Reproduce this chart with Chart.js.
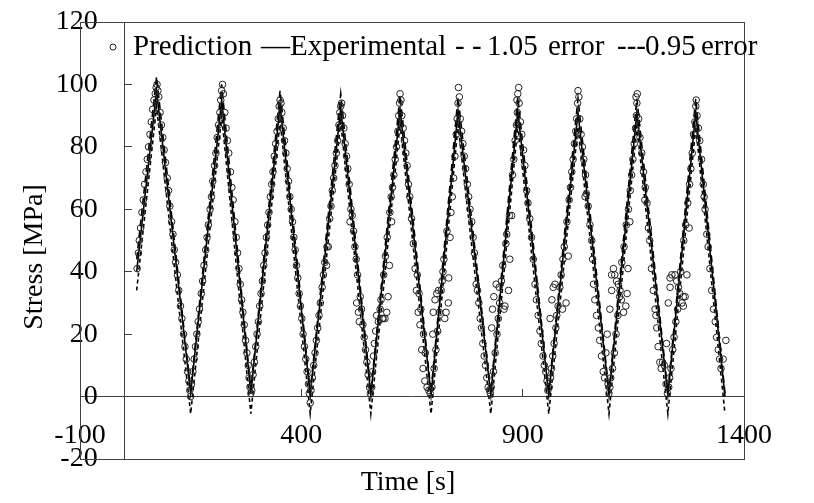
<!DOCTYPE html>
<html>
<head>
<meta charset="utf-8">
<title>Stress vs Time</title>
<script src="https://cdn.jsdelivr.net/npm/chart.js@4.4.0/dist/chart.umd.min.js"></script>
<style>
  html, body { margin: 0; padding: 0; background: #fff; }
  #chart { display: block; }
</style>
</head>
<body>
<canvas id="chart" width="814" height="503"></canvas>
<script>
// 軸の設定値
const xTicks = [-100, 400, 900, 1400];
const yTicks = [-20, 0, 20, 40, 60, 80, 100, 120];

// 実験値（三角波の頂点）
const expTime = [28, 73, 150, 220, 286, 352, 420, 489, 557, 623, 693, 754, 828, 889, 959, 1025, 1095, 1158, 1228, 1291, 1357];
const expStress = [40, 98, 1, 95, 1, 93.5, 0.5, 92.5, 0.5, 92, 0.5, 91.5, 0.5, 91.5, 0.5, 91, 0.5, 91, 0.5, 91, 0];
// 誤差線
const upperStress = [44, 102.5, 2, 100, 2, 98, 1.5, 97, 1.5, 96.5, 1.5, 96, 1.5, 96, 1.5, 95.5, 1.5, 95.5, 1.5, 95.5, 1];
const lowerStress = [34, 93, -5.5, 90, -5.5, 88.5, -5.5, 88, -5.5, 87.5, -5.5, 87, -5.5, 87, -5.5, 86.5, -5.5, 86.5, -5.5, 86.5, -5.5];

// 予測値 [時間, 応力]
const predictionPoints = [
  [29,41],[32,46],[34,50],[37,54],[40,59],[43,63],[46,68],[49,72],[52,76],[55,80],[58,84],[61,88],[64,92],[67,95],[70,97],[72,99],[74,100],[76,98],
  [78,96],[81,91],[84,87],[87,83],[90,79],[93,75],[97,70],[100,66],[103,61],[107,56],[110,52],[113,47],[116,43],[120,39],[123,34],[127,29],[130,25],[134,20],[137,16],[140,12],[143,8],[146,5],[148,2],[150,0],
  [152,4],[155,8],[158,12],[161,16],[164,20],[167,24],[170,28],[174,33],[177,37],[180,42],[184,47],[187,51],[190,55],[194,60],[197,64],[200,69],[204,74],[207,78],[210,83],[213,87],[216,91],[218,95],[220,98],[222,100],
  [224,97],[227,91],[230,86],[233,82],[236,78],[240,72],[243,67],[246,63],[250,56],[253,51],[256,46],[259,41],[262,36],[265,31],[268,27],[271,23],[274,18],[277,14],[280,10],[282,6],[284,3],[286,1],
  [288,2],[291,7],[294,11],[297,16],[300,20],[303,24],[306,29],[309,33],[312,37],[315,42],[318,46],[321,51],[324,55],[327,59],[330,64],[333,68],[336,72],[339,77],[342,81],[345,85],[348,89],[350,93],[352,95],[354,94],
  [356,91],[359,86],[362,82],[365,78],[368,73],[371,69],[374,64],[377,60],[380,56],[383,51],[386,47],[389,42],[392,38],[395,33],[398,29],[401,25],[404,20],[407,16],[410,12],[413,8],[416,4],[418,1],[420,-2],
  [422,2],[425,6],[428,10],[431,14],[434,18],[437,22],[440,26],[443,30],[447,35],[450,39],[453,43],[457,42],[458,48],[461,48],[464,57],[467,61],[470,66],[473,70],[476,74],[479,78],[482,82],[485,87],[487,91],[489,93],[491,94],
  [493,90],[496,86],[499,81],[502,77],[505,73],[508,68],[510,56],[512,60],[515,58],[518,53],[521,48],[524,44],[525,30],[527,39],[529,27],[531,24],[533,32],[536,28],[539,23],[542,19],[545,15],[548,11],[551,7],[554,3],[556,1],
  [559,3],[561,8],[563,13],[565,17],[568,21],[570,26],[574,24],[578,28],[580,31],[583,25],[585,25],[586,39],[589,25],[590,45],[593,27],[594,51],[596,32],[599,42],[600,59],[604,56],[603,64],[606,67],[609,71],[612,76],[615,80],[618,85],[620,90],[622,94],[623,97],[625,95],
  [627,90],[630,86],[633,82],[636,78],[639,74],[642,68],[645,64],[649,57],[653,49],[657,41],[660,34],[662,39],[664,27],[666,33],[668,23],[670,28],[672,15],[675,9],[676,20],[679,5],[680,14],[684,3],[688,2],[691,1],
  [695,3],[697,20],[698,27],[700,9],[702,31],[704,15],[706,33],[708,21],[710,34],[712,27],[716,34],[718,37],[720,40],[722,44],[724,25],[727,27],[729,53],[732,30],[733,38],[736,51],[738,59],[741,64],[744,70],[747,77],[750,84],[752,89],[754,94],[755,99],[757,96],
  [759,89],[762,85],[765,81],[768,77],[771,73],[775,68],[778,64],[781,60],[785,56],[788,51],[791,46],[795,36],[798,34],[801,30],[804,25],[807,22],[810,17],[813,13],[816,10],[819,6],[822,3],[825,2],[827,1],
  [829,3],[830,22],[832,28],[834,8],[835,32],[838,14],[840,36],[842,20],[845,25],[847,35],[848,30],[852,37],[855,42],[858,28],[860,29],[862,49],[864,52],[868,34],[870,58],[871,44],[875,58],[877,71],[880,76],[883,82],[886,87],[888,91],[889,97],[891,99],[887,95],[892,94],
  [895,88],[898,84],[902,79],[905,74],[909,66],[912,62],[916,57],[920,51],[924,44],[928,36],[931,31],[935,26],[939,21],[942,17],[946,13],[949,10],[952,8],[955,5],[957,2],
  [960,3],[962,25],[963,6],[965,9],[966,31],[968,13],[969,35],[971,17],[973,36],[975,22],[977,26],[980,29],[984,35],[987,39],[990,28],[991,44],[994,48],[998,30],[1000,56],[1003,45],[1005,63],[1008,67],[1011,72],[1014,76],[1017,81],[1020,85],[1022,89],[1024,94],[1025,98],[1027,96],
  [1029,89],[1032,84],[1035,80],[1038,76],[1041,64],[1042,71],[1044,65],[1048,61],[1052,55],[1056,50],[1058,44],[1060,36],[1063,31],[1067,26],[1071,22],[1074,18],[1078,13],[1082,8],[1085,6],[1088,14],[1091,20],[1093,4],[1095,1],
  [1097,28],[1097,3],[1099,6],[1101,34],[1101,39],[1103,9],[1105,41],[1107,14],[1108,39],[1111,20],[1112,37],[1115,26],[1116,36],[1119,32],[1120,34],[1123,31],[1124,43],[1128,27],[1129,48],[1133,29],[1134,55],[1136,33],[1138,41],[1139,60],[1142,56],[1143,66],[1146,71],[1149,76],[1152,81],[1155,86],[1157,90],[1158,94],[1159,97],[1156,96],
  [1162,89],[1165,83],[1169,78],[1173,72],[1176,63],[1177,67],[1181,62],[1184,54],[1187,50],[1191,41],[1195,34],[1199,28],[1201,26],[1203,22],[1206,16],[1210,11],[1213,9],[1216,11],[1220,10],[1224,4],[1225,17],[1227,1],
  [1229,30],[1230,3],[1232,6],[1233,35],[1233,38],[1235,9],[1237,39],[1239,15],[1242,19],[1244,39],[1246,24],[1248,37],[1250,28],[1252,35],[1255,33],[1257,40],[1260,30],[1263,32],[1263,29],[1264,50],[1267,32],[1268,55],[1271,39],[1273,62],[1276,54],[1277,68],[1280,73],[1283,78],[1286,84],[1289,88],[1291,93],[1292,95],
  [1294,90],[1297,86],[1300,82],[1304,76],[1308,68],[1310,64],[1312,60],[1316,52],[1319,48],[1323,41],[1327,34],[1331,28],[1335,24],[1338,19],[1342,15],[1345,12],[1348,9],[1353,12],[1359,18]
];

// 凡例の文字列と位置
const legendParts = ['Prediction', '\u2014Experimental', '- -', '1.05', 'error', '---', '0.95', 'error'];
const legendX = [133, 261, 455, 487, 548, 617, 645, 701];
const xTitle = 'Time [s]';
const yTitle = 'Stress [MPa]';

const AXIS_COLOR = '#404040';
const FONT = '"Liberation Serif", "Times New Roman", serif';
// y軸ラベルを軸から離すための空白
const Y_LABEL_GAP = '\u2002\u2009 ';

// 時間と応力を {x, y} に変換
function toPoints(times, values) {
    return times.map((t, i) => ({ x: t, y: values[i] }));
}

// 枠・凡例・軸タイトルを描くプラグイン
const decorPlugin = {
    id: 'decor',
    beforeDatasetsDraw(chart) {
        const { ctx, chartArea: a } = chart;
        ctx.save();
        ctx.strokeStyle = AXIS_COLOR;
        ctx.lineWidth = 1;
        ctx.strokeRect(Math.round(a.left) + 0.5, Math.round(a.top) + 0.5,
            Math.round(a.right - a.left), Math.round(a.bottom - a.top));
        ctx.restore();
    },
    afterDraw(chart) {
        const { ctx } = chart;
        ctx.save();
        // 凡例
        ctx.strokeStyle = '#222';
        ctx.lineWidth = 1;
        ctx.beginPath();
        ctx.arc(113, 47, 3, 0, Math.PI * 2);
        ctx.stroke();
        ctx.fillStyle = '#000';
        ctx.font = '29px ' + FONT;
        ctx.textAlign = 'left';
        ctx.textBaseline = 'alphabetic';
        legendParts.forEach((s, i) => ctx.fillText(s, legendX[i], 55));
        // 軸タイトル
        ctx.font = '28px ' + FONT;
        ctx.textAlign = 'center';
        ctx.textBaseline = 'middle';
        ctx.fillText(xTitle, 408, 483);
        ctx.translate(35, 257);
        ctx.rotate(-Math.PI / 2);
        ctx.fillText(yTitle, 0, 0);
        ctx.restore();
    }
};

const canvas = document.getElementById('chart');

new Chart(canvas, {
    type: 'scatter',
    data: {
        datasets: [
            {
                label: 'Prediction',
                data: predictionPoints.map(p => ({ x: p[0], y: p[1] })),
                showLine: false,
                pointStyle: 'circle',
                pointRadius: 3.3,
                pointBorderWidth: 1,
                pointBorderColor: '#222',
                pointBackgroundColor: 'rgba(0,0,0,0)'
            },
            {
                label: 'Experimental',
                data: toPoints(expTime, expStress),
                showLine: true,
                borderColor: '#000',
                borderWidth: 1.6,
                pointRadius: 0,
                tension: 0
            },
            {
                label: '1.05 error',
                data: toPoints(expTime, upperStress),
                showLine: true,
                borderColor: '#000',
                borderWidth: 1.6,
                borderDash: [7, 4],
                pointRadius: 0,
                tension: 0
            },
            {
                label: '0.95 error',
                data: toPoints(expTime, lowerStress),
                showLine: true,
                borderColor: '#000',
                borderWidth: 1.6,
                borderDash: [4, 3],
                pointRadius: 0,
                tension: 0
            }
        ]
    },
    options: {
        responsive: false,
        animation: false,
        layout: { padding: { left: 80, right: 70, top: 22, bottom: 44 } },
        plugins: {
            legend: { display: false },
            tooltip: { enabled: false }
        },
        scales: {
            x: {
                type: 'linear',
                position: { y: 0 },
                min: -100,
                max: 1400,
                afterBuildTicks: scale => { scale.ticks = xTicks.map(v => ({ value: v })); },
                ticks: {
                    color: '#000',
                    font: { family: FONT, size: 28 },
                    padding: 30,
                    maxRotation: 0,
                    autoSkip: false,
                    callback: v => String(v)
                },
                grid: { drawOnChartArea: false, tickLength: -8, color: AXIS_COLOR },
                border: { color: AXIS_COLOR, width: 1 }
            },
            y: {
                type: 'linear',
                position: { x: 0 },
                min: -20,
                max: 120,
                afterBuildTicks: scale => { scale.ticks = yTicks.map(v => ({ value: v })); },
                ticks: {
                    color: '#000',
                    font: { family: FONT, size: 28 },
                    padding: 0,
                    autoSkip: false,
                    callback: v => String(v) + Y_LABEL_GAP
                },
                grid: { drawOnChartArea: false, tickLength: -8, color: AXIS_COLOR },
                border: { color: AXIS_COLOR, width: 1 }
            }
        }
    },
    plugins: [decorPlugin]
});
</script>
</body>
</html>
